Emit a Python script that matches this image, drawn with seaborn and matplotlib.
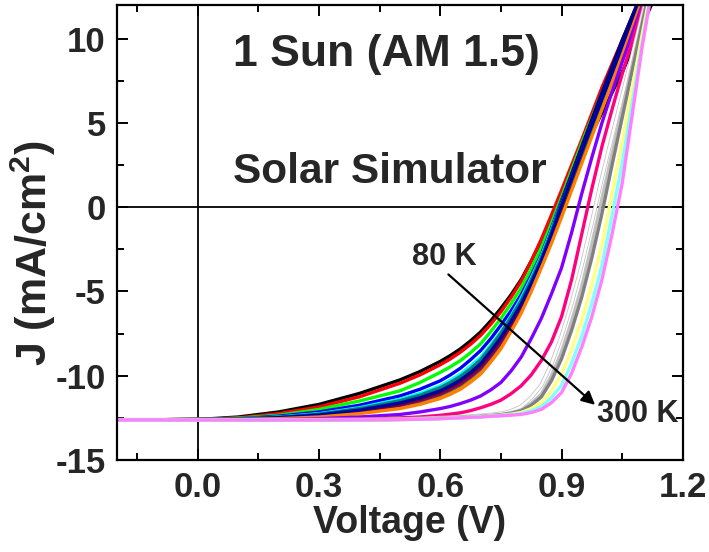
import matplotlib
matplotlib.use("Agg")
import matplotlib.pyplot as plt
from matplotlib.ticker import MultipleLocator, FixedLocator
import pandas as pd
import seaborn as sns

# Bias voltage grid (V)
voltage = [-0.2, 0.0, 0.1, 0.2, 0.3, 0.4, 0.5, 0.55, 0.6, 0.625, 0.65, 0.675,
           0.7, 0.725, 0.75, 0.775, 0.8, 0.825, 0.85, 0.875, 0.9, 0.925,
           0.95, 0.975, 1.0, 1.025, 1.05, 1.1, 1.15]

temperatures = [80, 90, 100, 110, 120, 130, 140, 150, 160, 170, 180, 190,
                200, 210, 220, 230, 240, 250, 260, 270, 280, 290, 300]

# Current density (mA/cm^2) for each temperature, on the voltage grid
j_80K = [-12.62, -12.6, -12.45, -12.15, -11.7, -11.05, -10.25, -9.75, -9.15, -8.8, -8.4, -7.93,
         -7.4, -6.74, -6.0, -5.2, -4.3, -3.2, -2.0, -0.72, 0.6, 1.9, 3.2, 4.4, 5.6, 6.8, 8.0, 10.8, 13.5]
j_90K = [-12.62, -12.6, -12.5, -12.25, -11.85, -11.25, -10.45, -9.95, -9.35, -9.0, -8.6, -8.13,
         -7.6, -6.94, -6.2, -5.35, -4.4, -3.2, -1.9, -0.47, 1.0, 2.5, 4.0, 5.55, 7.1, 8.5, 9.9, 12.7, 15.5]
j_100K = [-12.62, -12.6, -12.52, -12.35, -12.0, -11.5, -10.9, -10.4, -9.8, -9.47, -9.1, -8.63,
          -8.1, -7.38, -6.6, -5.73, -4.8, -3.65, -2.4, -0.95, 0.6, 2.2, 3.8, 5.3, 6.8, 8.25, 9.7, 12.6, 15.4]
j_110K = [-12.62, -12.6, -12.55, -12.4, -12.15, -11.75, -11.2, -10.8, -10.3, -9.95, -9.55, -9.05,
          -8.5, -7.8, -7.0, -6.15, -5.2, -4.05, -2.8, -1.25, 0.4, 1.95, 3.5, 5.05, 6.6, 8.05, 9.5, 12.4, 15.3]
j_120K = [-12.62, -12.6, -12.57, -12.45, -12.25, -11.9, -11.4, -11.05, -10.6, -10.27, -9.9, -9.42,
          -8.9, -8.17, -7.4, -6.45, -5.4, -4.2, -2.9, -1.35, 0.3, 1.85, 3.4, 4.9, 6.4, 7.85, 9.3, 12.2, 15.1]
j_130K = [-12.62, -12.6, -12.59, -12.51, -12.36, -12.09, -11.7, -11.41, -11.01, -10.72, -10.4, -9.95,
          -9.45, -8.7, -7.9, -6.93, -5.9, -4.65, -3.29, -1.8, -0.2, 1.38, 2.96, 4.52, 6.07, 7.6, 9.14, 12.26, 15.2]
j_140K = [-12.62, -12.6, -12.6, -12.54, -12.42, -12.2, -11.87, -11.6, -11.24, -10.97, -10.67, -10.23,
          -9.75, -9.03, -8.24, -7.24, -6.17, -4.9, -3.5, -2.04, -0.47, 1.12, 2.72, 4.3, 5.89, 7.47, 9.05, 12.29, 15.3]
j_150K = [-12.62, -12.6, -12.6, -12.53, -12.4, -12.16, -11.81, -11.54, -11.16, -10.89, -10.58, -10.14,
          -9.65, -8.92, -8.13, -7.14, -6.08, -4.82, -3.43, -1.96, -0.38, 1.2, 2.8, 4.37, 5.95, 7.5, 9.08, 12.28, 15.3]
j_160K = [-12.62, -12.6, -12.58, -12.49, -12.32, -12.02, -11.59, -11.28, -10.86, -10.56, -10.22, -9.76,
          -9.25, -8.5, -7.69, -6.74, -5.72, -4.5, -3.15, -1.5, 0.3, 1.95, 3.6, 5.2, 6.8, 8.35, 9.9, 12.8, 15.7]
j_170K = [-12.62, -12.6, -12.59, -12.52, -12.38, -12.13, -11.76, -11.47, -11.09, -10.81, -10.49, -10.05,
          -9.55, -8.81, -8.02, -7.04, -5.99, -4.73, -3.36, -1.88, -0.29, 1.29, 2.88, 4.45, 6.01, 7.55, 9.1, 12.27, 15.3]
j_180K = [-12.62, -12.6, -12.59, -12.5, -12.35, -12.08, -11.68, -11.38, -10.98, -10.69, -10.35, -9.9,
          -9.4, -8.65, -7.85, -6.88, -5.85, -4.6, -3.25, -1.75, -0.15, 1.42, 3.0, 4.55, 6.1, 7.62, 9.15, 12.25, 15.2]
j_190K = [-12.62, -12.6, -12.58, -12.48, -12.3, -11.99, -11.54, -11.21, -10.79, -10.48, -10.13, -9.67,
          -9.15, -8.4, -7.58, -6.64, -5.63, -4.4, -3.08, -1.55, 0.08, 1.64, 3.2, 4.72, 6.25, 7.74, 9.23, 12.22, 15.2]
j_200K = [-12.62, -12.6, -12.57, -12.47, -12.28, -11.95, -11.48, -11.15, -10.71, -10.4, -10.04, -9.58,
          -9.05, -8.29, -7.47, -6.54, -5.54, -4.32, -3.0, -1.47, 0.17, 1.72, 3.28, 4.8, 6.31, 7.78, 9.26, 12.2, 15.1]
j_210K = [-12.62, -12.6, -12.58, -12.49, -12.33, -12.04, -11.62, -11.31, -10.9, -10.6, -10.26, -9.81,
          -9.3, -8.55, -7.74, -6.78, -5.76, -4.52, -3.18, -1.6, 0.1, 1.7, 3.3, 4.85, 6.4, 7.9, 9.4, 12.4, 15.4]
j_220K = [-12.62, -12.6, -12.6, -12.55, -12.45, -12.25, -11.95, -11.7, -11.35, -11.1, -10.8, -10.38,
          -9.9, -9.18, -8.4, -7.38, -6.3, -5.0, -3.6, -2.15, -0.6, 1.0, 2.6, 4.2, 5.8, 7.4, 9.0, 12.3, 15.4]
j_230K = [-12.62, -12.62, -12.62, -12.6, -12.55, -12.45, -12.3, -12.15, -11.95, -11.82, -11.65, -11.45,
          -11.2, -10.84, -10.4, -9.72, -8.9, -7.8, -6.6, -5.15, -3.6, -1.5, 0.8, 2.95, 5.0, 6.85, 8.6, 12.0, 15.3]
j_240K = [-12.62, -12.62, -12.62, -12.61, -12.6, -12.57, -12.5, -12.45, -12.35, -12.28, -12.2, -12.07,
          -11.9, -11.7, -11.45, -11.07, -10.6, -9.95, -9.1, -8.0, -6.5, -4.3, -1.6, 1.1, 3.6, 5.8, 7.9, 11.8, 15.2]
j_250K = [-12.62, -12.62, -12.62, -12.62, -12.62, -12.61, -12.58, -12.55, -12.5, -12.48, -12.45, -12.41,
          -12.37, -12.32, -12.25, -12.1, -11.84, -11.3, -10.57, -9.3, -7.66, -5.7, -3.45, -0.9, 1.75, 4.2, 6.6, 11.4, 16.0]
j_260K = [-12.62, -12.62, -12.62, -12.62, -12.62, -12.61, -12.59, -12.56, -12.52, -12.49, -12.46, -12.43,
          -12.39, -12.35, -12.31, -12.2, -12.03, -11.65, -11.1, -10.0, -8.57, -6.75, -4.7, -2.2, 0.5, 3.15, 5.8, 11.1, 16.3]
j_270K = [-12.62, -12.62, -12.62, -12.62, -12.62, -12.61, -12.59, -12.57, -12.53, -12.5, -12.48, -12.45,
          -12.42, -12.37, -12.32, -12.22, -12.08, -11.75, -11.26, -10.3, -9.0, -7.3, -5.34, -3.0, -0.38, 2.5, 5.3, 10.9, 16.5]
j_280K = [-12.62, -12.62, -12.63, -12.63, -12.62, -12.62, -12.6, -12.58, -12.54, -12.51, -12.49, -12.46,
          -12.43, -12.39, -12.35, -12.28, -12.18, -11.95, -11.6, -10.9, -9.92, -8.45, -6.7, -4.6, -2.2, 0.8, 3.9, 10.3, 16.5]
j_290K = [-12.62, -12.62, -12.63, -12.63, -12.62, -12.62, -12.6, -12.58, -12.55, -12.52, -12.5, -12.47,
          -12.44, -12.4, -12.37, -12.32, -12.25, -12.08, -11.84, -11.3, -10.57, -9.25, -7.66, -5.7, -3.45, -0.5, 2.6, 9.8, 16.5]
j_300K = [-12.62, -12.62, -12.63, -12.63, -12.62, -12.62, -12.6, -12.58, -12.55, -12.52, -12.5, -12.47,
          -12.45, -12.41, -12.38, -12.34, -12.3, -12.18, -12.0, -11.6, -11.0, -9.85, -8.3, -6.5, -4.3, -1.6, 1.4, 9.6, 16.5]

current_density = [j_80K, j_90K, j_100K, j_110K, j_120K, j_130K, j_140K, j_150K,
                   j_160K, j_170K, j_180K, j_190K, j_200K, j_210K, j_220K, j_230K,
                   j_240K, j_250K, j_260K, j_270K, j_280K, j_290K, j_300K]

# Origin-style colour cycle, one per temperature
line_colors = ["#000000", "#FF0000", "#00FF00", "#0000FF", "#00FFFF", "#FF00FF",
               "#FFFF00", "#808000", "#000080", "#800080", "#800000", "#008000",
               "#008080", "#0000A0", "#FF8000", "#8000FF", "#FF0080", "#FFFFFF",
               "#C0C0C0", "#808080", "#FFFF80", "#80FFFF", "#FF80FF"]

rows = []
for t, js in zip(temperatures, current_density):
    if len(js) != len(voltage):
        raise ValueError(f"{t} K: {len(js)} values for {len(voltage)} voltages")
    for v, j in zip(voltage, js):
        rows.append({"T": t, "V": v, "J": j})
df = pd.DataFrame(rows)

sns.set_theme(style="ticks")
plt.rcParams["font.family"] = ["Liberation Sans", "DejaVu Sans"]
plt.rcParams["font.weight"] = "bold"
plt.rcParams["mathtext.fontset"] = "custom"
plt.rcParams["mathtext.rm"] = "Liberation Sans:bold"
plt.rcParams["mathtext.default"] = "rm"
plt.rcParams["axes.unicode_minus"] = False
plt.rcParams["lines.solid_joinstyle"] = "round"
plt.rcParams["lines.solid_capstyle"] = "round"

fig = plt.figure(figsize=(7.09, 5.52), dpi=100)
fig.patch.set_facecolor("white")
ax = fig.add_axes([0.165, 0.1667, 0.798, 0.8243])
ax.set_facecolor("white")

ax.axhline(0, color="black", lw=1.3, zorder=1)
ax.axvline(0, color="black", lw=1.3, zorder=1)

for t, col in zip(temperatures, line_colors):
    sub = df[df["T"] == t]
    if col == "#FFFFFF":
        # white trace gets a faint grey outline so it reads against the white page
        sns.lineplot(data=sub, x="V", y="J", color="#c4c4c4", lw=3.0,
                     sort=False, estimator=None, ax=ax, zorder=2)
        sns.lineplot(data=sub, x="V", y="J", color=col, lw=1.8,
                     sort=False, estimator=None, ax=ax, zorder=2)
    else:
        sns.lineplot(data=sub, x="V", y="J", color=col, lw=2.4,
                     sort=False, estimator=None, ax=ax, zorder=2)

ax.set_xlim(-0.2, 1.2)
ax.set_ylim(-15, 12)
ax.xaxis.set_major_locator(FixedLocator([0.0, 0.3, 0.6, 0.9, 1.2]))
ax.set_xticklabels(["0.0", "0.3", "0.6", "0.9", "1.2"])
ax.xaxis.set_minor_locator(FixedLocator([-0.15, 0.15, 0.45, 0.75, 1.05]))
ax.yaxis.set_major_locator(MultipleLocator(5))
ax.yaxis.set_minor_locator(MultipleLocator(2.5))

ax.tick_params(which="both", direction="in", top=True, right=True,
               width=1.4, color="black")
ax.tick_params(which="major", length=8, labelsize=25, pad=8)
ax.tick_params(which="minor", length=5)
for lab in ax.get_xticklabels() + ax.get_yticklabels():
    lab.set_fontweight("bold")
for sp in ax.spines.values():
    sp.set_linewidth(1.6)
    sp.set_color("black")

ax.set_xlabel("Voltage (V)", fontsize=27, fontweight="bold")
ax.set_ylabel(r"J (mA/cm$^2$)", fontsize=31, fontweight="bold")
ax.xaxis.set_label_coords(0.518, -0.099)
ax.yaxis.set_label_coords(-0.105, 0.455)

ax.text(0.088, 8.39, "1 Sun (AM 1.5)", fontsize=32, fontweight="bold",
        ha="left", va="baseline")
ax.text(0.088, 1.45, "Solar Simulator", fontsize=30.5, fontweight="bold",
        ha="left", va="baseline")
ax.text(0.53, -3.41, "80 K", fontsize=22, fontweight="bold",
        ha="left", va="baseline")
ax.text(0.987, -12.74, "300 K", fontsize=22, fontweight="bold",
        ha="left", va="baseline")
ax.annotate("", xy=(0.983, -11.73), xytext=(0.62, -3.99),
            arrowprops=dict(arrowstyle="-|>", color="black", lw=1.6,
                            mutation_scale=20, shrinkA=0, shrinkB=0))

fig.savefig("out.png", dpi=100)
